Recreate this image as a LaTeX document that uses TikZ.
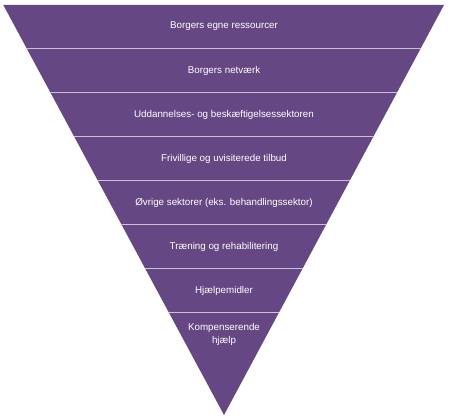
\documentclass[tikz,border=0pt]{standalone}
\usepackage{fontspec}
\setmainfont{Liberation Sans}
\usepackage{tikz}
\usetikzlibrary{calc}
\definecolor{funnelpurple}{HTML}{654883}
\definecolor{bandline}{HTML}{CBC2D8}

\begin{document}
\begin{tikzpicture}[x=1pt,y=-1pt,
  band/.style={text=white,font=\fontsize{9.8}{12.5}\selectfont,align=center}]
\useasboundingbox (0,0) rectangle (450,419);
% funnel
\coordinate (tl) at (3.3,5);
\coordinate (tr) at (444,5);
\coordinate (apex) at (224,415);
\fill[funnelpurple] (tl)--(tr)--(apex)--cycle;
\begin{scope}
\clip (tl)--(tr)--(apex)--cycle;
\foreach \y in {48.5,92.5,136.5,180.5,224.5,268.5,312.5}
  \draw[bandline,line width=1.1pt] (0,\y)--(450,\y);
\end{scope}
% labels
\node[band] (own) at (224,26.5){Borgers egne ressourcer};
\node[band] (net) at (224,70.5){Borgers netværk};
\node[band] (edu) at (224,114.5){Uddannelses- og beskæftigelsessektoren};
\node[band] (vol) at (224,158.5){Frivillige og uvisiterede tilbud};
\node[band] (oth) at (224,202.5){Øvrige sektorer (eks. behandlingssektor)};
\node[band] (reh) at (224,246.5){Træning og rehabilitering};
\node[band] (aid) at (224,290.5){Hjælpemidler};
\node[band] (comp) at (224,334.5){Kompenserende\\hjælp};
\end{tikzpicture}
\end{document}
